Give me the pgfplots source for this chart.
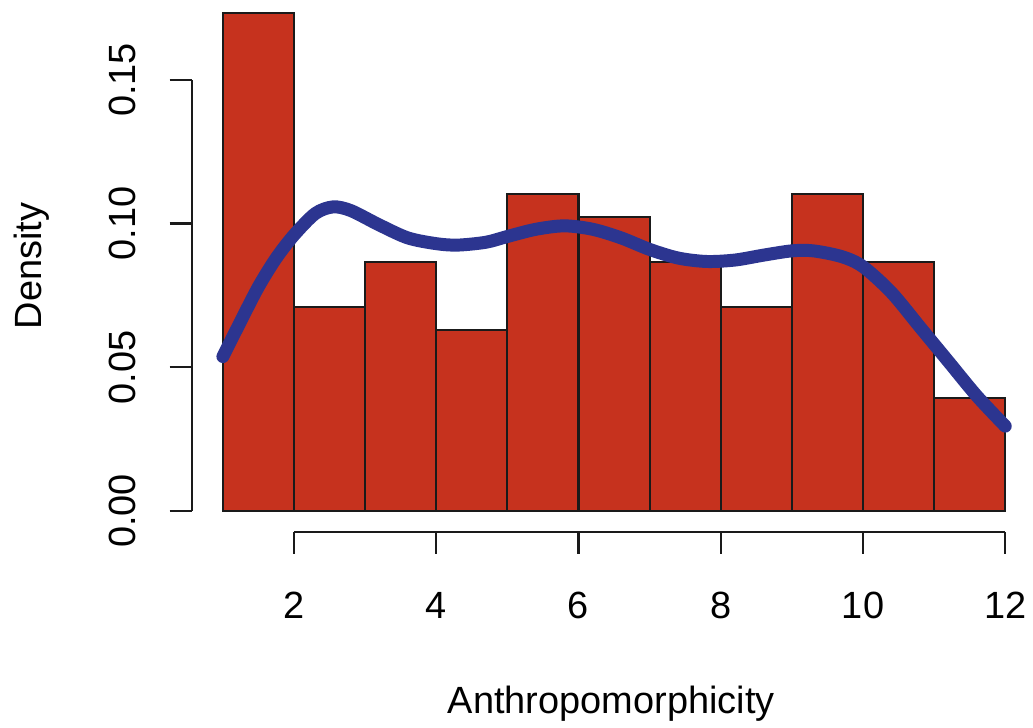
\documentclass[border=0pt]{standalone}
\usepackage{pgfplots}
\pgfplotsset{compat=1.18}
\usepackage{fontspec}
\setmainfont{Liberation Sans}
\definecolor{barred}{HTML}{C6321E}
\definecolor{curveblue}{HTML}{2C3590}
\definecolor{edge}{HTML}{1A1A1A}

\begin{document}
\begin{tikzpicture}
\begin{axis}[
  scale only axis,
  width=420.5pt, height=266.5pt,
  xmin=0.56, xmax=12.36,
  ymin=-0.0073, ymax=0.1778,
  axis line style={draw=none},
  xtick={2,4,6,8,10,12},
  xticklabels={2,4,6,8,10,12},
  ytick={0,0.05,0.1,0.15},
  yticklabels={0.00,0.05,0.10,0.15},
  xtick pos=lower, ytick pos=left,
  tick align=outside,
  major tick length=11pt,
  tick style={edge, line width=1.1pt},
  font=\fontsize{19}{23}\selectfont,
  every x tick label/.style={anchor=center, yshift=-26pt},
  every y tick label/.style={anchor=center, xshift=-23.5pt, rotate=90},
  every axis x label/.style={at={(axis description cs:0.5,0)}, anchor=center, yshift=-86pt},
  every axis y label/.style={at={(axis description cs:0,0.5)}, anchor=center, xshift=-80pt, rotate=90},
  xlabel={Anthropomorphicity},
  ylabel={Density},
  clip=false,
]
% histogram: counts 22,9,11,8,14,13,11,9,14,11,5 out of 127
\addplot[ybar interval, fill=barred, draw=edge, line width=1.1pt]
  coordinates {(1,0.1732)(2,0.0709)(3,0.0866)(4,0.0630)(5,0.1102)(6,0.1024)
               (7,0.0866)(8,0.0709)(9,0.1102)(10,0.0866)(11,0.0394)(12,0.0394)};
% density curve
\addplot[curveblue, line width=6.5pt, smooth, line cap=round]
  coordinates {(1.0,0.0537)(1.25,0.066)(1.5,0.078)(1.75,0.088)(2.0,0.096)(2.3,0.1035)
               (2.55,0.1058)(2.8,0.1045)(3.2,0.0995)(3.6,0.0950)(4.0,0.0930)(4.3,0.0925)
               (4.7,0.0935)(5.0,0.0955)(5.4,0.0980)(5.8,0.0992)(6.2,0.0980)(6.6,0.0950)
               (7.0,0.0910)(7.4,0.0880)(7.8,0.0868)(8.2,0.0873)(8.6,0.0890)(9.0,0.0905)
               (9.3,0.0905)(9.7,0.0885)(10.0,0.0850)(10.4,0.0760)(10.8,0.0640)(11.2,0.0520)
               (11.6,0.0400)(12.0,0.0295)};
% R-style axis lines
\draw[edge, line width=1.1pt] (axis cs:2,-0.0073) -- (axis cs:12,-0.0073);
\draw[edge, line width=1.1pt] (axis cs:0.56,0) -- (axis cs:0.56,0.15);
\path (rel axis cs:-0.2283,-0.3602) rectangle (rel axis cs:1,1);
\end{axis}
\end{tikzpicture}
\end{document}
